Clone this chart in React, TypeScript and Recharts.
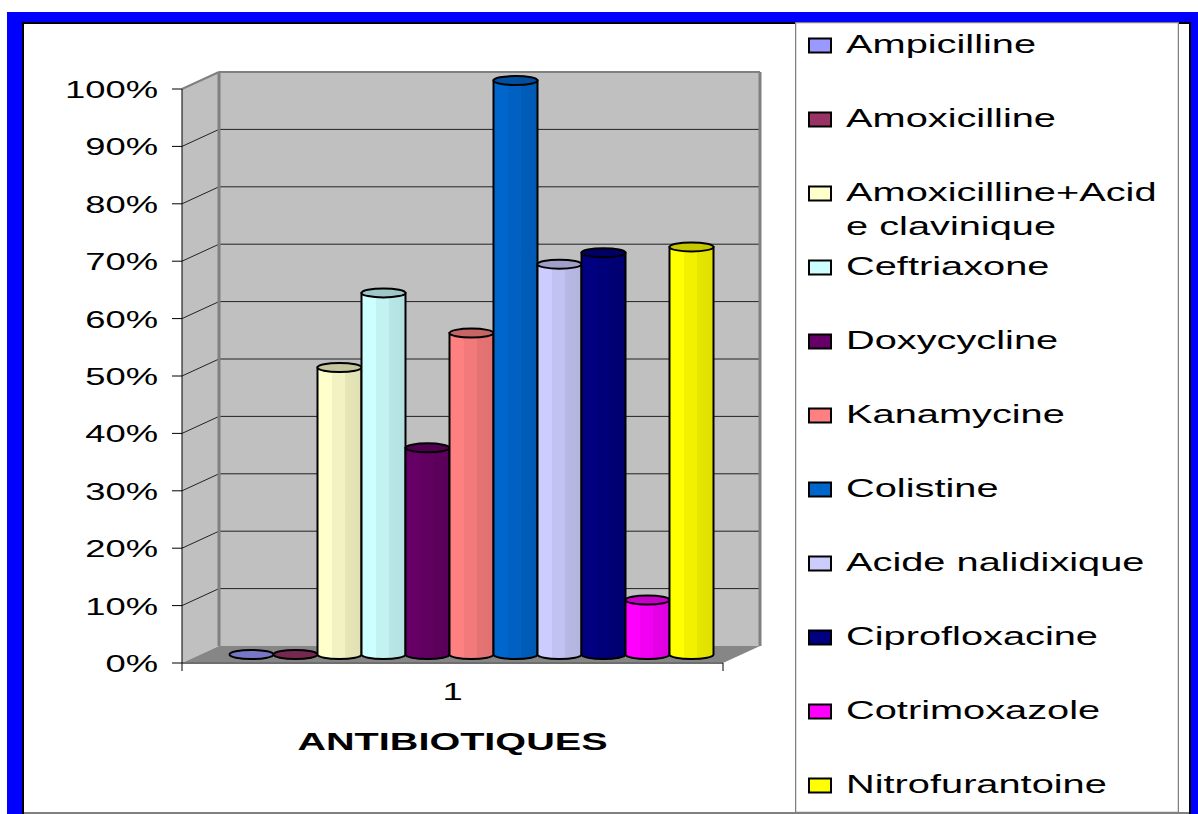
import { BarChart, Bar, XAxis, YAxis, ReferenceArea, Legend } from 'recharts';

const categories = ['1'];
const antibiotics = [
  'Ampicilline',
  'Amoxicilline',
  'Amoxicilline+Acide clavinique',
  'Ceftriaxone',
  'Doxycycline',
  'Kanamycine',
  'Colistine',
  'Acide nalidixique',
  'Ciprofloxacine',
  'Cotrimoxazole',
  'Nitrofurantoine',
];
const resistance = [0, 0, 50, 63, 36, 56, 100, 68, 70, 9.5, 71];
const colors = [
  '#9999FF', '#993366', '#FFFFCC', '#CCFFFF', '#660066', '#FF8080',
  '#0066CC', '#CCCCFF', '#000080', '#FF00FF', '#FFFF00',
];
const yTicks = [0, 10, 20, 30, 40, 50, 60, 70, 80, 90, 100];
const axisTitle = 'ANTIBIOTIQUES';

const data = categories.map((cat) => {
  const row: Record<string, any> = { cat };
  antibiotics.forEach((_, i) => (row[`s${i}`] = resistance[i]));
  return row;
});

// 3d depth of the walls (back plane -> front plane)
const DX = -37;
const DY = 17;
const FONT = '"Liberation Sans", Arial, sans-serif';

const shade = (hex: string, k: number) => {
  const n = parseInt(hex.slice(1), 16);
  const r = Math.round(((n >> 16) & 255) * k);
  const g = Math.round(((n >> 8) & 255) * k);
  const b = Math.round((n & 255) * k);
  return `rgb(${r},${g},${b})`;
};

const Walls = (props: any) => {
  const { x, y, width: w, height: h } = props;
  const by = y + h;
  const gy = yTicks.slice(1, -1).map((v) => by - (v / 100) * h);
  return (
    <g>
      <polygon points={`${x + DX},${y + DY} ${x},${y} ${x},${by} ${x + DX},${by + DY}`} fill="#c0c0c0" />
      <polygon points={`${x + DX},${by + DY} ${x},${by} ${x + w},${by} ${x + w + DX},${by + DY}`} fill="#868686" />
      <rect x={x} y={y} width={w} height={h} fill="#c0c0c0" />
      {gy.map((yy, i) => (
        <g key={i}>
          <line x1={x} y1={yy} x2={x + w} y2={yy} stroke="#222" strokeWidth={1} />
          <line x1={x + DX} y1={yy + DY} x2={x} y2={yy} stroke="#222" strokeWidth={1} />
        </g>
      ))}
      <line x1={x} y1={y} x2={x} y2={by} stroke="#808080" strokeWidth={3} />
      <line x1={x + w} y1={y} x2={x + w} y2={by} stroke="#808080" strokeWidth={3} />
      <line x1={x} y1={y} x2={x + w} y2={y} stroke="#808080" strokeWidth={2} />
      <line x1={x + DX} y1={y + DY} x2={x} y2={y} stroke="#808080" strokeWidth={2} />
      <line x1={x + DX} y1={by + DY} x2={x + w + DX} y2={by + DY} stroke="#6e6e6e" strokeWidth={2} />
      <line x1={x + DX} y1={y + DY} x2={x + DX} y2={by + DY + 8} stroke="#000" strokeWidth={1} />
      <line x1={x + w + DX} y1={by + DY} x2={x + w + DX} y2={by + DY + 8} stroke="#000" strokeWidth={1} />
    </g>
  );
};

const YTick = (props: any) => {
  const { x, y, payload } = props;
  const fx = x + DX;
  const fy = y + DY;
  return (
    <g>
      <line x1={fx - 10} y1={fy} x2={fx} y2={fy} stroke="#000" strokeWidth={1} />
      <text
        transform={`translate(${fx - 24},${fy + 9}) scale(1.58,1)`}
        textAnchor="end"
        fontSize={23}
        fontFamily={FONT}
        fill="#000"
      >
        {`${payload.value}%`}
      </text>
    </g>
  );
};

const XTick = (props: any) => {
  const { x, y, payload } = props;
  const fx = x + DX;
  return (
    <g>
      <text transform={`translate(${fx},${y + 54}) scale(1.58,1)`} textAnchor="middle" fontSize={23} fontFamily={FONT} fill="#000">
        {payload.value}
      </text>
      <text transform={`translate(${fx},${y + 104}) scale(1.65,1)`} textAnchor="middle" fontSize={24} fontWeight="bold" fontFamily={FONT} fill="#000">
        {axisTitle}
      </text>
    </g>
  );
};

const Cylinder = (props: any) => {
  const { x, y, width, height, color, gid } = props;
  const left = x - 18.5;
  const right = left + width;
  const top = y + 8.5;
  const bottom = top + height;
  const rx = width / 2;
  const ry = 4.5;
  return (
    <g>
      <defs>
        <linearGradient id={gid} x1="0" y1="0" x2="1" y2="0">
          <stop offset="0" stopColor={shade(color, 1)} />
          <stop offset="0.32" stopColor={shade(color, 1)} />
          <stop offset="0.32" stopColor={shade(color, 0.95)} />
          <stop offset="0.62" stopColor={shade(color, 0.95)} />
          <stop offset="0.62" stopColor={shade(color, 0.9)} />
          <stop offset="1" stopColor={shade(color, 0.88)} />
        </linearGradient>
      </defs>
      {height > 0 && (
        <path
          d={`M${left},${top} L${left},${bottom} A${rx},${ry} 0 0 0 ${right},${bottom} L${right},${top} Z`}
          fill={`url(#${gid})`}
          stroke="#000"
          strokeWidth={2}
        />
      )}
      <ellipse cx={left + rx} cy={top} rx={rx} ry={ry} fill={shade(color, 0.78)} stroke="#000" strokeWidth={2} />
    </g>
  );
};

const wrapName = (s: string) => {
  const out: string[] = [];
  for (let i = 0; i < s.length; i += 17) out.push(s.slice(i, i + 17));
  return out;
};

const LegendBox = (props: any) => {
  const payload: any[] = props.payload || [];
  return (
    <svg width={384} height={792} style={{ display: 'block' }}>
      <rect x={0.5} y={0.5} width={383} height={790} fill="#fff" stroke="#808080" strokeWidth={1.5} />
      {antibiotics.map((name, i) => {
        const p = payload.find((e) => e.value === name);
        const cy = 23.5 + i * 74;
        return (
          <g key={name}>
            <rect x={14} y={cy - 7} width={22} height={14} fill={p ? p.color : colors[i]} stroke="#000" strokeWidth={2} />
            {wrapName(name).map((line, j) => (
              <text
                key={j}
                transform={`translate(51,${cy + 7 + j * 34}) scale(1.53,1)`}
                fontSize={26}
                fontFamily={FONT}
                fill="#000"
              >
                {line}
              </text>
            ))}
          </g>
        );
      })}
    </svg>
  );
};

export default function App() {
  return (
    <div style={{ position: 'absolute', left: 0, top: 0, width: 1198, height: 814, overflow: 'hidden', background: '#fff' }}>
      <div style={{ position: 'absolute', left: 7, top: 12, width: 1191, height: 810, background: '#0000FF' }} />
      <div style={{ position: 'absolute', left: 22, top: 22, width: 1169, height: 800, background: '#000' }} />
      <div style={{ position: 'absolute', left: 24, top: 24, width: 1165, height: 788, background: '#fff' }} />
      <div style={{ position: 'absolute', left: 24, top: 812, width: 1165, height: 2, background: '#808080' }} />
      <div style={{ position: 'absolute', left: 0, top: 0 }}>
        <BarChart
          width={1198}
          height={814}
          data={data}
          margin={{ top: 72, right: 438, bottom: 138, left: 159 }}
          barGap={0}
          barCategoryGap={29}
        >
          <ReferenceArea y1={0} y2={100} ifOverflow="visible" shape={Walls} />
          <XAxis
            dataKey="cat"
            axisLine={false}
            tickLine={false}
            tickSize={0}
            tickMargin={0}
            height={30}
            interval={0}
            tick={XTick}
          />
          <YAxis
            type="number"
            domain={[0, 100]}
            ticks={yTicks}
            width={60}
            axisLine={false}
            tickLine={false}
            tickSize={0}
            tickMargin={0}
            tick={YTick}
          />
          <Legend
            layout="vertical"
            align="center"
            verticalAlign="middle"
            content={LegendBox}
            wrapperStyle={{ left: 795, top: 22, width: 384, height: 792 }}
          />
          {antibiotics.map((name, i) => (
            <Bar
              key={name}
              dataKey={`s${i}`}
              name={name}
              fill={colors[i]}
              legendType="square"
              isAnimationActive={false}
              shape={(p: any) => <Cylinder {...p} color={colors[i]} gid={`cyl${i}`} />}
            />
          ))}
        </BarChart>
      </div>
    </div>
  );
}
